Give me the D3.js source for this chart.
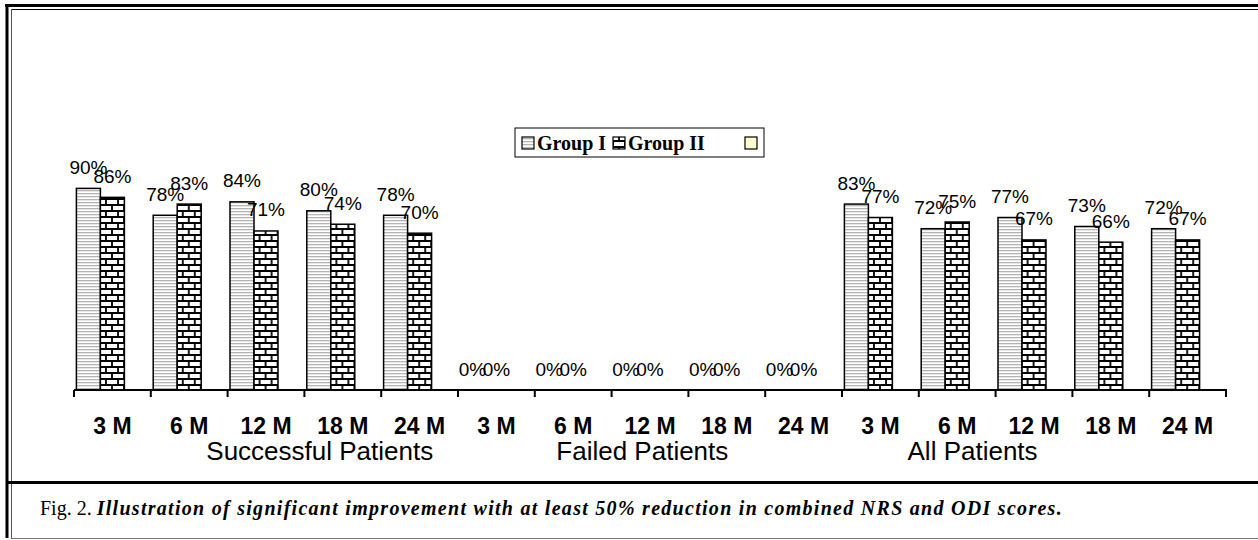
<!DOCTYPE html>
<html>
<head>
<meta charset="utf-8">
<script src="https://cdn.jsdelivr.net/npm/d3@7"></script>
<style>
  body { margin: 0; background: #fff; }
  svg { display: block; }
</style>
</head>
<body>
<div id="chart"></div>
<script>
var W = 1258, H = 540;

// data
var periods = ['3 M', '6 M', '12 M', '18 M', '24 M'];
var groups = ['Successful Patients', 'Failed Patients', 'All Patients'];
var series = ['Group I', 'Group II', ''];
var groupI  = [90, 78, 84, 80, 78,  0, 0, 0, 0, 0,  83, 72, 77, 73, 72];
var groupII = [86, 83, 71, 74, 70,  0, 0, 0, 0, 0,  77, 75, 67, 66, 67];
var groupLabelPos = [3.2, 7.4, 11.7]; // in category units from axis start
var caption = 'Illustration of  significant improvement with at least 50% reduction in combined NRS and ODI scores.';

var cats = [];
groups.forEach(function(g) { periods.forEach(function(p) { cats.push(p); }); });

var rows = cats.map(function(c, i) {
  return {i: i, cat: c, vals: [groupI[i], groupII[i], null]};
});

var svg = d3.select('#chart').append('svg')
  .attr('width', W)
  .attr('height', H);

var defs = svg.append('defs');

// horizontal gray lines
var p1 = defs.append('pattern')
  .attr('id', 'hlines')
  .attr('patternUnits', 'userSpaceOnUse')
  .attr('width', 6).attr('height', 3);
p1.append('rect').attr('width', 6).attr('height', 3).attr('fill', '#fff');
p1.append('rect').attr('y', 1).attr('width', 6).attr('height', 1.3).attr('fill', '#b4b4b4');

// brick pattern
var p2 = defs.append('pattern')
  .attr('id', 'brick')
  .attr('patternUnits', 'userSpaceOnUse')
  .attr('width', 12).attr('height', 12);
p2.append('rect').attr('width', 12).attr('height', 12).attr('fill', '#fff');
p2.append('path')
  .attr('d', 'M0,1H12M0,7H12M2,1V7M8,7V13')
  .attr('stroke', '#000')
  .attr('stroke-width', 1.8)
  .attr('fill', 'none');

var fills = ['url(#hlines)', 'url(#brick)', '#ffffcc'];

// frame
svg.append('rect').attr('x', 0).attr('y', 0).attr('width', W).attr('height', H).attr('fill', '#fff');
svg.append('line').attr('x1', 5).attr('x2', W).attr('y1', 5.5).attr('y2', 5.5)
  .attr('stroke', '#000').attr('stroke-width', 3);
svg.append('line').attr('x1', 7).attr('x2', 7).attr('y1', 4).attr('y2', 538)
  .attr('stroke', '#000').attr('stroke-width', 3);
svg.append('line').attr('x1', 11).attr('x2', W).attr('y1', 9.5).attr('y2', 9.5)
  .attr('stroke', '#000').attr('stroke-width', 1);
svg.append('line').attr('x1', 11.5).attr('x2', 11.5).attr('y1', 9).attr('y2', 538)
  .attr('stroke', '#555').attr('stroke-width', 1);
svg.append('line').attr('x1', 11).attr('x2', W).attr('y1', 538.5).attr('y2', 538.5)
  .attr('stroke', '#777').attr('stroke-width', 1);
svg.append('line').attr('x1', 8).attr('x2', W).attr('y1', 482.5).attr('y2', 482.5)
  .attr('stroke', '#000').attr('stroke-width', 3);

// scales
var x = d3.scaleBand()
  .domain(d3.range(cats.length))
  .range([74, 1226])
  .padding(0);

var xs = d3.scaleBand()
  .domain([0, 1, 2])
  .range([0, x.bandwidth()])
  .paddingInner(0)
  .paddingOuter(0.1);

var y = d3.scaleLinear()
  .domain([0, 100])
  .range([390, 166]);

var pos = d3.scaleLinear()
  .domain([0, cats.length])
  .range([74, 1226]);

// bars
var cg = svg.selectAll('.cat')
  .data(rows)
  .enter().append('g')
    .attr('class', 'cat')
    .attr('transform', function(d) { return 'translate(' + x(d.i) + ',0)'; });

cg.selectAll('rect')
  .data(function(d) { return d.vals.map(function(v, k) { return {k: k, v: v}; }).filter(function(e) { return e.v; }); })
  .enter().append('rect')
    .attr('x', function(d) { return xs(d.k); })
    .attr('y', function(d) { return y(d.v); })
    .attr('width', xs.bandwidth())
    .attr('height', function(d) { return y(0) - y(d.v); })
    .attr('fill', function(d) { return fills[d.k]; })
    .attr('stroke', '#000')
    .attr('stroke-width', 1.5);

// value labels
cg.selectAll('text.val')
  .data(function(d) { return d.vals.map(function(v, k) { return {k: k, v: v}; }).filter(function(e) { return e.v !== null; }); })
  .enter().append('text')
    .attr('class', 'val')
    .attr('x', function(d) { return xs(d.k) + xs.bandwidth() / 2; })
    .attr('y', function(d) { return y(d.v) - 14.5; })
    .attr('text-anchor', 'middle')
    .style('font-family', '"Liberation Sans", Arial, sans-serif')
    .style('font-size', '19px')
    .text(function(d) { return d.v + '%'; });

// axis
var ax = svg.append('g')
  .attr('transform', 'translate(0,390)');
ax.append('line')
  .attr('x1', 74).attr('x2', 1227)
  .attr('stroke', '#000').attr('stroke-width', 2);
ax.selectAll('line.tick')
  .data(d3.range(cats.length + 1))
  .enter().append('line')
    .attr('class', 'tick')
    .attr('x1', function(d) { return pos(d); })
    .attr('x2', function(d) { return pos(d); })
    .attr('y1', 0).attr('y2', 7)
    .attr('stroke', '#000').attr('stroke-width', 2);

svg.selectAll('text.cat')
  .data(rows)
  .enter().append('text')
    .attr('class', 'cat')
    .attr('x', function(d) { return x(d.i) + x.bandwidth() / 2; })
    .attr('y', 434)
    .attr('text-anchor', 'middle')
    .style('font-family', '"Liberation Sans", Arial, sans-serif')
    .style('font-weight', 'bold')
    .style('font-size', '23px')
    .text(function(d) { return d.cat; });

svg.selectAll('text.grp')
  .data(groups)
  .enter().append('text')
    .attr('class', 'grp')
    .attr('x', function(d, i) { return pos(groupLabelPos[i]); })
    .attr('y', 460)
    .attr('text-anchor', 'middle')
    .style('font-family', '"Liberation Sans", Arial, sans-serif')
    .style('font-size', '26px')
    .text(function(d) { return d; });

// legend
var lg = svg.append('g').attr('transform', 'translate(515,128)');
lg.append('rect').attr('width', 249).attr('height', 29)
  .attr('fill', '#fff').attr('stroke', '#000').attr('stroke-width', 1);
var lx = [7, 98, 230];
series.forEach(function(s, k) {
  lg.append('rect')
    .attr('x', lx[k]).attr('y', 9)
    .attr('width', 12).attr('height', 12)
    .attr('fill', fills[k])
    .attr('stroke', '#000').attr('stroke-width', 1.2);
  lg.append('text')
    .attr('x', lx[k] + 15).attr('y', 22)
    .style('font-family', '"Liberation Serif", "Times New Roman", serif')
    .style('font-weight', 'bold')
    .style('font-size', '20px')
    .text(s);
});

// caption
var cap = svg.append('text')
  .attr('x', 40).attr('y', 515)
  .style('font-family', '"Liberation Serif", "Times New Roman", serif')
  .style('font-size', '20px');
cap.append('tspan').text('Fig. 2. ');
cap.append('tspan')
  .style('font-style', 'italic')
  .style('font-weight', 'bold')
  .attr('textLength', 965)
  .attr('lengthAdjust', 'spacing')
  .text(caption);
</script>
</body>
</html>
